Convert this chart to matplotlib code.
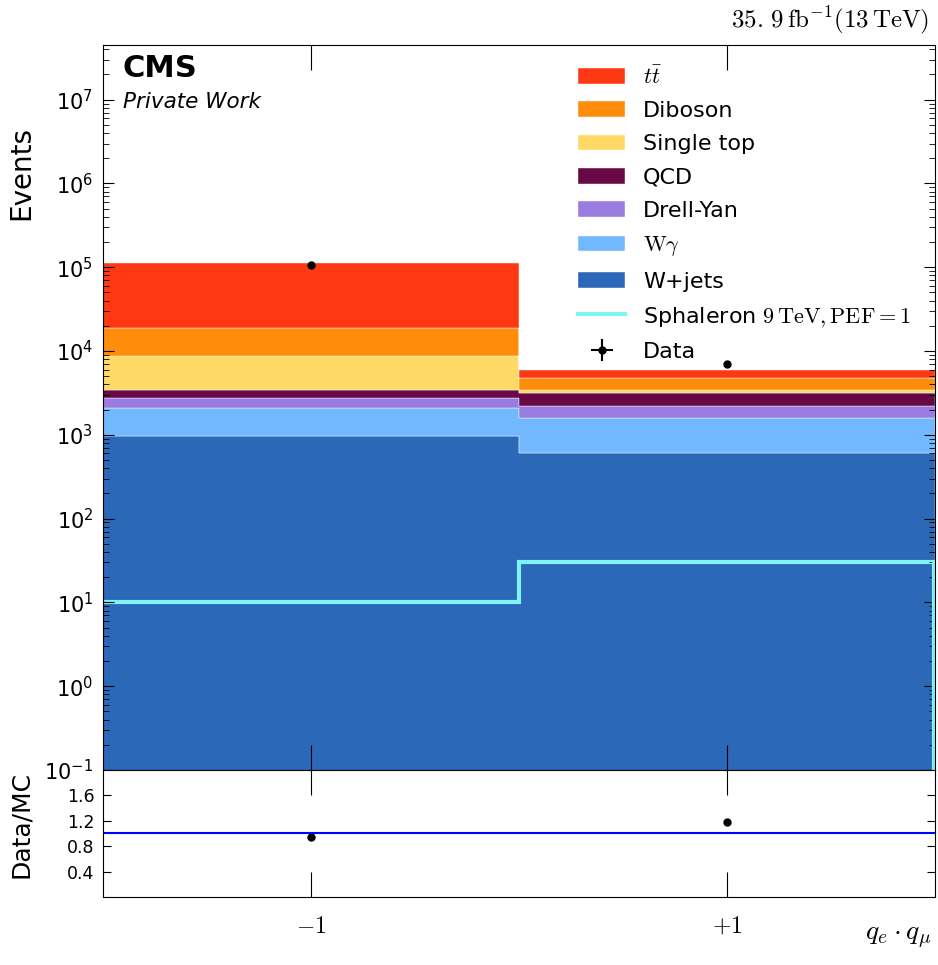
import numpy as np
import matplotlib
matplotlib.use("Agg")
import matplotlib.pyplot as plt

plt.rcParams['mathtext.fontset'] = 'cm'
plt.rcParams['font.family'] = ['DejaVu Sans']

# bins in q_e * q_mu
edges = np.array([-2.0, 0.0, 2.0])
centers = np.array([-1.0, 1.0])
tick_labels = ['$-1$', '$+1$']

# background samples, stacked from bottom to top
samples = ['W+jets', r'$\mathrm{W}\gamma$', 'Drell-Yan', 'QCD', 'Single top', 'Diboson', r'$t\bar{t}$']
colors = ['#2c68b8', '#72b8ff', '#9a7be0', '#660944', '#ffd966', '#ff8c0a', '#ff3814']
wjets = [960, 600]
wgamma = [1130, 990]
dy = [660, 600]
qcd = [650, 970]
single_top = [5300, 240]
diboson = [10000, 1330]
ttbar = [93300, 1170]

sphaleron = [10, 30]
data = [106000, 7000]

mc = [wjets, wgamma, dy, qcd, single_top, diboson, ttbar]

fig = plt.figure(figsize=(9.38, 9.65), dpi=100)
ax = fig.add_axes([0.1098, 0.2021, 0.887, 0.7513])
rax = fig.add_axes([0.1098, 0.0705, 0.887, 0.1316], sharex=ax)

bottom = np.full(2, 1e-3)
for name, vals, col in zip(samples, mc, colors):
    top = bottom + np.array(vals, dtype=float)
    ax.stairs(top, edges, baseline=bottom, fill=True, facecolor=col, label=name,
              edgecolor='white', linewidth=0.3)
    bottom = top
total = bottom

# signal outline (no edge on the left, drops to the floor on the right)
ax.stairs(sphaleron, edges, baseline=None, color='#7ff4f4', linewidth=3,
          label=r'Sphaleron $9\,\mathrm{TeV}, \mathrm{PEF} = 1$')
ax.vlines(edges[-1] - 0.004, 1e-3, sphaleron[-1], color='#7ff4f4', linewidth=3)

data = np.array(data, dtype=float)
ax.errorbar(centers, data, xerr=0, yerr=np.sqrt(data), fmt='o', color='black', markersize=5,
            label='Data')

ax.set_yscale('log')
ax.set_ylim(0.1, 4.5e7)
ax.set_xlim(-2, 2)
ax.set_ylabel('Events', fontsize=20)
ax.yaxis.set_label_coords(-0.082, 0.823)
ax.tick_params(axis='y', which='major', direction='in', right=True, length=8, labelsize=15, pad=7)
ax.tick_params(axis='y', which='minor', direction='in', right=True, length=4)
ax.tick_params(axis='x', which='major', direction='in', top=True, length=18, labelbottom=False)
ax.tick_params(axis='x', which='minor', bottom=False, top=False)

ax.text(0.024, 0.988, 'CMS', transform=ax.transAxes, fontsize=22, fontweight='bold', va='top')
ax.text(0.024, 0.935, 'Private Work', transform=ax.transAxes, fontsize=15.5, style='italic', va='top')
ax.text(0.993, 1.012, r'$35.\,9\,\mathrm{fb}^{-1}(13\,\mathrm{TeV})$', transform=ax.transAxes,
        fontsize=18, ha='right', va='bottom')

h, l = ax.get_legend_handles_labels()
order = [6, 5, 4, 3, 2, 1, 0, 7, 8]
ax.legend([h[i] for i in order], [l[i] for i in order], loc='upper right',
          bbox_to_anchor=(0.995, 1.0), frameon=False, fontsize=16,
          handlelength=2.1, labelspacing=0.6, handletextpad=0.8)

# ratio panel
ratio = data / total
rax.plot(centers, ratio, 'o', color='black', markersize=5)
rax.axhline(1.0, color='#0000ff', linewidth=1.5)
rax.set_ylim(0, 2)
rax.set_yticks([0.4, 0.8, 1.2, 1.6])
rax.set_ylabel('Data/MC', fontsize=18)
rax.yaxis.set_label_coords(-0.084, 0.57)
rax.set_xticks(centers)
rax.set_xticklabels(tick_labels, fontsize=17)
rax.tick_params(axis='x', which='major', direction='in', top=True, length=18, pad=12)
rax.tick_params(axis='y', which='major', direction='in', right=True, length=6, labelsize=12.5, pad=6)
rax.set_xlabel(r'$q_e \cdot q_\mu$', fontsize=20, ha='right', va='top')
rax.xaxis.set_label_coords(0.995, -0.2)

fig.savefig('out.png', dpi=100)
